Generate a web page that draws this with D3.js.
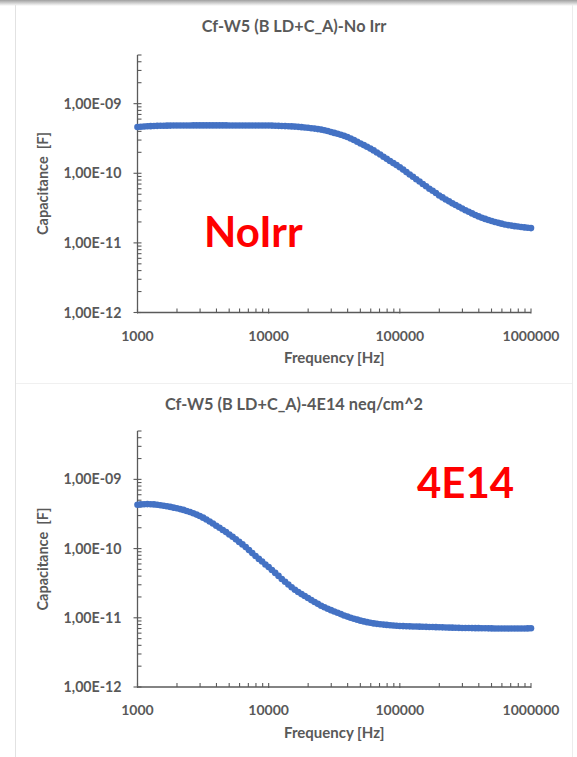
<!DOCTYPE html>
<html>
<head>
<meta charset="utf-8">
<script src="https://cdn.jsdelivr.net/npm/d3@7"></script>
<style>
  html, body { margin: 0; padding: 0; background: #ffffff; }
  svg { display: block; }
  text { font-family: Lato, "Open Sans", "DejaVu Sans", sans-serif; }
</style>
</head>
<body>
<svg id="chart" width="577" height="757"></svg>
<script>
// Frequency sweep points [Hz], 40 per decade
const freqHz = [
  1000, 1059, 1122, 1189, 1259, 1334, 1413, 1496, 1585, 1679,
  1778, 1884, 1995, 2113, 2239, 2371, 2512, 2661, 2818, 2985,
  3162, 3350, 3548, 3758, 3981, 4217, 4467, 4732, 5012, 5309,
  5623, 5957, 6310, 6683, 7079, 7499, 7943, 8414, 8913, 9441,
  10000, 10590, 11220, 11890, 12590, 13340, 14130, 14960, 15850, 16790,
  17780, 18840, 19950, 21130, 22390, 23710, 25120, 26610, 28180, 29850,
  31620, 33500, 35480, 37580, 39810, 42170, 44670, 47320, 50120, 53090,
  56230, 59570, 63100, 66830, 70790, 74990, 79430, 84140, 89130, 94410,
  100000, 105900, 112200, 118900, 125900, 133400, 141300, 149600, 158500, 167900,
  177800, 188400, 199500, 211300, 223900, 237100, 251200, 266100, 281800, 298500,
  316200, 335000, 354800, 375800, 398100, 421700, 446700, 473200, 501200, 530900,
  562300, 595700, 631000, 668300, 707900, 749900, 794300, 841400, 891300, 944100,
  1000000
];

// Measured capacitance [F], not irradiated
const capNoIrr = [
  4.62e-10, 4.66e-10, 4.70e-10, 4.73e-10, 4.75e-10, 4.78e-10, 4.80e-10, 4.81e-10, 4.82e-10, 4.83e-10,
  4.84e-10, 4.85e-10, 4.85e-10, 4.86e-10, 4.86e-10, 4.86e-10, 4.86e-10, 4.87e-10, 4.87e-10, 4.87e-10,
  4.87e-10, 4.87e-10, 4.87e-10, 4.87e-10, 4.87e-10, 4.87e-10, 4.87e-10, 4.87e-10, 4.86e-10, 4.86e-10,
  4.86e-10, 4.86e-10, 4.86e-10, 4.86e-10, 4.86e-10, 4.86e-10, 4.86e-10, 4.86e-10, 4.86e-10, 4.86e-10,
  4.85e-10, 4.84e-10, 4.82e-10, 4.80e-10, 4.78e-10, 4.76e-10, 4.74e-10, 4.71e-10, 4.68e-10, 4.64e-10,
  4.60e-10, 4.55e-10, 4.50e-10, 4.44e-10, 4.38e-10, 4.31e-10, 4.24e-10, 4.14e-10, 4.04e-10, 3.92e-10,
  3.80e-10, 3.69e-10, 3.57e-10, 3.45e-10, 3.32e-10, 3.16e-10, 3.00e-10, 2.84e-10, 2.68e-10, 2.54e-10,
  2.40e-10, 2.26e-10, 2.13e-10, 1.99e-10, 1.86e-10, 1.73e-10, 1.61e-10, 1.50e-10, 1.40e-10, 1.31e-10,
  1.22e-10, 1.13e-10, 1.04e-10, 9.6e-11, 8.9e-11, 8.2e-11, 7.6e-11, 7.0e-11, 6.5e-11, 6.0e-11,
  5.6e-11, 5.2e-11, 4.8e-11, 4.5e-11, 4.2e-11, 3.95e-11, 3.7e-11, 3.5e-11, 3.3e-11, 3.12e-11,
  2.95e-11, 2.80e-11, 2.65e-11, 2.52e-11, 2.40e-11, 2.30e-11, 2.21e-11, 2.13e-11, 2.06e-11, 2.00e-11,
  1.94e-11, 1.89e-11, 1.84e-11, 1.80e-11, 1.77e-11, 1.74e-11, 1.72e-11, 1.69e-11, 1.67e-11, 1.65e-11,
  1.63e-11
];

// Measured capacitance [F], after 4E14 neq/cm^2
const cap4E14 = [
  4.30e-10, 4.35e-10, 4.38e-10, 4.39e-10, 4.38e-10, 4.35e-10, 4.30e-10, 4.23e-10, 4.15e-10, 4.08e-10,
  4.00e-10, 3.91e-10, 3.82e-10, 3.72e-10, 3.62e-10, 3.50e-10, 3.38e-10, 3.24e-10, 3.10e-10, 2.95e-10,
  2.80e-10, 2.63e-10, 2.46e-10, 2.30e-10, 2.14e-10, 2.00e-10, 1.86e-10, 1.73e-10, 1.60e-10, 1.48e-10,
  1.36e-10, 1.25e-10, 1.15e-10, 1.05e-10, 9.5e-11, 8.6e-11, 7.8e-11, 7.1e-11, 6.5e-11, 5.9e-11,
  5.4e-11, 4.9e-11, 4.45e-11, 4.03e-11, 3.64e-11, 3.31e-11, 3.02e-11, 2.76e-11, 2.54e-11, 2.36e-11,
  2.20e-11, 2.06e-11, 1.93e-11, 1.80e-11, 1.69e-11, 1.59e-11, 1.49e-11, 1.42e-11, 1.35e-11, 1.29e-11,
  1.23e-11, 1.18e-11, 1.13e-11, 1.08e-11, 1.04e-11, 1.00e-11, 9.7e-12, 9.4e-12, 9.1e-12, 8.87e-12,
  8.65e-12, 8.47e-12, 8.3e-12, 8.17e-12, 8.05e-12, 7.97e-12, 7.9e-12, 7.82e-12, 7.75e-12, 7.68e-12,
  7.62e-12, 7.58e-12, 7.55e-12, 7.52e-12, 7.5e-12, 7.47e-12, 7.45e-12, 7.42e-12, 7.4e-12, 7.37e-12,
  7.35e-12, 7.32e-12, 7.3e-12, 7.27e-12, 7.25e-12, 7.22e-12, 7.2e-12, 7.17e-12, 7.15e-12, 7.13e-12,
  7.12e-12, 7.11e-12, 7.1e-12, 7.09e-12, 7.08e-12, 7.06e-12, 7.05e-12, 7.04e-12, 7.03e-12, 7.01e-12,
  7.0e-12, 7.0e-12, 7.0e-12, 7.0e-12, 7.0e-12, 7.0e-12, 7.0e-12, 7.01e-12, 7.02e-12, 7.03e-12,
  7.05e-12
];

const xTickValues = [1000, 10000, 100000, 1000000];
const xTickLabels = ["1000", "10000", "100000", "1000000"];
const yTickValues = [1e-12, 1e-11, 1e-10, 1e-9];
const yTickLabels = ["1,00E-12", "1,00E-11", "1,00E-10", "1,00E-09"];
const chartTitles = ["Cf-W5 (B LD+C_A)-No Irr", "Cf-W5 (B LD+C_A)-4E14 neq/cm^2"];
const chartTags = ["NoIrr", "4E14"];
const xAxisTitle = "Frequency [Hz]";
const yAxisTitle = "Capacitance  [F]";
const xDomain = [1000, 1000000];
const yDomain = [1e-12, 5e-9];

const svg = d3.select("#chart");
const textGray = "#595959";
const axisGray = "#5a5a5a";
const markerBlue = "#4472c4";

// page frame
const defs = svg.append("defs");
const grad = defs.append("linearGradient").attr("id", "topShade")
  .attr("x1", 0).attr("y1", 0).attr("x2", 0).attr("y2", 1);
grad.append("stop").attr("offset", "0%").attr("stop-color", "#a0a0a0");
grad.append("stop").attr("offset", "100%").attr("stop-color", "#ffffff");
svg.append("rect").attr("x", 0).attr("y", 0).attr("width", 577).attr("height", 6).attr("fill", "url(#topShade)");
svg.append("line").attr("x1", 15.5).attr("x2", 15.5).attr("y1", 5).attr("y2", 757)
  .attr("stroke", "#e2e2e2").attr("stroke-width", 1);
svg.append("line").attr("x1", 572.5).attr("x2", 572.5).attr("y1", 5).attr("y2", 757)
  .attr("stroke", "#ececec").attr("stroke-width", 1);
svg.append("line").attr("x1", 16).attr("x2", 572).attr("y1", 383.5).attr("y2", 383.5)
  .attr("stroke", "#f0f0f0").attr("stroke-width", 1);

const panels = [
  { values: capNoIrr, title: chartTitles[0], tag: chartTags[0],
    left: 137.5, right: 531, top: 55, bottom: 312.5,
    titleY: 32, tagX: 204, tagY: 247, xTitleY: 363, yTitleY: 183.5 },
  { values: cap4E14, title: chartTitles[1], tag: chartTags[1],
    left: 137.5, right: 531, top: 431, bottom: 687,
    titleY: 410, tagX: 417, tagY: 498, xTitleY: 738, yTitleY: 559 }
];

panels.forEach(p => {
  const g = svg.append("g");
  const x = d3.scaleLog().domain(xDomain).range([p.left, p.right]);
  const y = d3.scaleLog().domain(yDomain).range([p.bottom, p.top]);

  // minor tick positions (2..9 within each decade)
  const xMinor = [];
  for (let d = 3; d < 6; d++) for (let k = 2; k <= 9; k++) xMinor.push(k * Math.pow(10, d));
  const yMinor = [];
  for (let d = -12; d <= -9; d++) for (let k = 2; k <= 9; k++) {
    const v = k * Math.pow(10, d);
    if (v <= yDomain[1] * 1.0001) yMinor.push(v);
  }

  // y axis
  const yAxis = g.append("g");
  yAxis.append("line").attr("x1", p.left).attr("x2", p.left)
    .attr("y1", p.top).attr("y2", p.bottom).attr("stroke", axisGray).attr("stroke-width", 1.3);
  yAxis.selectAll("line.minor").data(yMinor).join("line").attr("class", "minor")
    .attr("x1", p.left).attr("x2", p.left + 4)
    .attr("y1", d => y(d)).attr("y2", d => y(d))
    .attr("stroke", axisGray).attr("stroke-width", 1.1);
  yAxis.selectAll("line.major").data(yTickValues).join("line").attr("class", "major")
    .attr("x1", p.left - 4).attr("x2", p.left + 4)
    .attr("y1", d => y(d)).attr("y2", d => y(d))
    .attr("stroke", axisGray).attr("stroke-width", 1.1);
  yAxis.selectAll("text").data(yTickValues).join("text")
    .attr("x", p.left - 16).attr("y", d => y(d)).attr("dy", "0.36em")
    .attr("text-anchor", "end").attr("fill", textGray)
    .attr("font-size", 14.2).attr("font-weight", 700)
    .text((d, i) => yTickLabels[i]);

  // x axis
  const xAxis = g.append("g");
  xAxis.append("line").attr("x1", p.left).attr("x2", p.right)
    .attr("y1", p.bottom).attr("y2", p.bottom).attr("stroke", axisGray).attr("stroke-width", 1.3);
  xAxis.selectAll("line.minor").data(xMinor).join("line").attr("class", "minor")
    .attr("x1", d => x(d)).attr("x2", d => x(d))
    .attr("y1", p.bottom).attr("y2", p.bottom - 4)
    .attr("stroke", axisGray).attr("stroke-width", 1.1);
  xAxis.selectAll("line.major").data(xTickValues).join("line").attr("class", "major")
    .attr("x1", d => x(d)).attr("x2", d => x(d))
    .attr("y1", p.bottom - 4).attr("y2", p.bottom + 1)
    .attr("stroke", axisGray).attr("stroke-width", 1.1);
  xAxis.selectAll("text").data(xTickValues).join("text")
    .attr("x", d => x(d)).attr("y", p.bottom + 28)
    .attr("text-anchor", "middle").attr("fill", textGray)
    .attr("font-size", 14).attr("font-weight", 700)
    .text((d, i) => xTickLabels[i]);

  // titles
  g.append("text").attr("x", 294).attr("y", p.titleY)
    .attr("text-anchor", "middle").attr("fill", textGray)
    .attr("font-size", 16.3).attr("font-weight", 700).text(p.title);
  g.append("text").attr("x", (p.left + p.right) / 2).attr("y", p.xTitleY)
    .attr("text-anchor", "middle").attr("fill", textGray)
    .attr("font-size", 15).attr("font-weight", 700).text(xAxisTitle);
  g.append("text")
    .attr("transform", `translate(48,${p.yTitleY}) rotate(-90)`)
    .attr("text-anchor", "middle").attr("fill", textGray)
    .style("white-space", "pre")
    .attr("font-size", 14.5).attr("font-weight", 700).text(yAxisTitle);

  // measured points
  g.append("g").selectAll("circle").data(freqHz).join("circle")
    .attr("cx", d => x(d)).attr("cy", (d, i) => y(p.values[i]))
    .attr("r", 3.3).attr("fill", markerBlue);

  // sample tag
  g.append("text").attr("x", p.tagX).attr("y", p.tagY)
    .attr("fill", "#ff0000").attr("font-size", 42).attr("font-weight", 700)
    .attr("font-family", "'Liberation Sans', Arial, sans-serif")
    .text(p.tag);
});
</script>
</body>
</html>
